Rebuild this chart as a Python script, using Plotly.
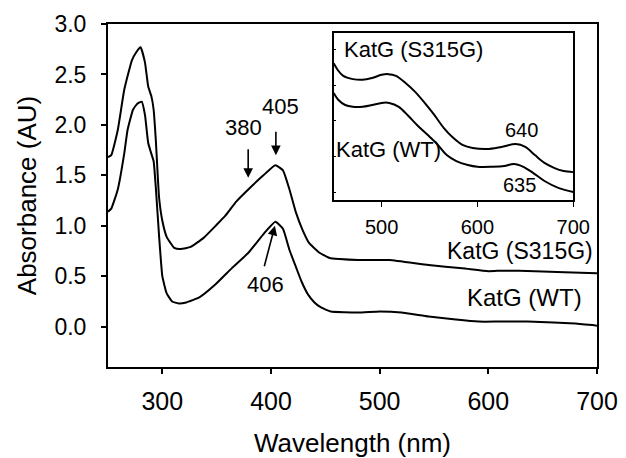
import plotly.graph_objects as go

# ---- main spectra ----
wl_s315g = [250, 253, 259, 265, 272, 276, 280, 284, 287, 290, 292, 294, 297, 300, 304, 311, 317,
            326, 338, 350, 358, 368, 381, 393, 404, 411, 417, 423, 429, 435, 445, 454, 463, 480,
            509, 545, 576, 600, 613, 643, 670, 700]
abs_s315g = [1.68, 1.70, 1.95, 2.35, 2.64, 2.72, 2.77, 2.62, 2.38, 2.28, 2.15, 1.85, 1.28, 1.05, 0.89, 0.78, 0.77,
             0.79, 0.88, 1.01, 1.10, 1.24, 1.38, 1.50, 1.60, 1.55, 1.36, 1.13, 0.96, 0.83, 0.73, 0.68, 0.67, 0.66,
             0.66, 0.61, 0.58, 0.55, 0.555, 0.55, 0.54, 0.53]

wl_wt = [250, 253, 259, 265, 268, 273, 277, 281, 284, 287, 290, 292, 294, 297, 300, 304, 309, 315,
         322, 334, 349, 364, 379, 394, 404, 411, 417, 423, 428, 434, 440, 446, 455, 480, 500, 520, 545,
         570, 591, 610, 636, 660, 680, 700]
abs_wt = [1.14, 1.17, 1.36, 1.72, 1.95, 2.15, 2.21, 2.23, 2.10, 1.82, 1.71, 1.64, 1.38, 0.90, 0.50, 0.33, 0.25, 0.23,
          0.24, 0.29, 0.42, 0.58, 0.73, 0.93, 1.04, 0.97, 0.76, 0.59, 0.45, 0.32, 0.24, 0.19, 0.15, 0.14, 0.15, 0.14,
          0.10, 0.07, 0.05, 0.05, 0.05, 0.04, 0.03, 0.01]

# ---- inset spectra ----
wl_in_s = [450, 455, 460, 470, 480, 490, 500, 507, 515, 525, 535, 545, 555, 565, 575, 585, 595, 610, 625,
           640, 650, 660, 670, 680, 690, 700]
abs_in_s = [0.563, 0.541, 0.527, 0.518, 0.516, 0.521, 0.530, 0.532, 0.527, 0.507, 0.482, 0.451, 0.417, 0.380,
            0.352, 0.332, 0.324, 0.321, 0.327, 0.335, 0.327, 0.304, 0.282, 0.268, 0.259, 0.256]
wl_in_w = [450, 455, 462, 470, 480, 490, 500, 508, 518, 528, 538, 548, 558, 568, 578, 590, 600, 615, 628,
           638, 648, 658, 670, 685, 700]
abs_in_w = [0.479, 0.459, 0.445, 0.440, 0.440, 0.445, 0.451, 0.451, 0.440, 0.414, 0.386, 0.361, 0.335, 0.304,
            0.287, 0.276, 0.271, 0.271, 0.273, 0.279, 0.271, 0.254, 0.231, 0.211, 0.200]

x_ticks = [300, 400, 500, 600, 700]
y_ticks = [0.0, 0.5, 1.0, 1.5, 2.0, 2.5, 3.0]
inset_x_ticks = [500, 600, 700]
inset_y_ticks = [0.2, 0.3, 0.4, 0.5, 0.6]

FONT = "Arial, Liberation Sans, sans-serif"
line = dict(color="black", width=2)

fig = go.Figure()
fig.add_trace(go.Scatter(x=wl_s315g, y=abs_s315g, mode="lines", line=dict(**line, shape="spline", smoothing=0.4)))
fig.add_trace(go.Scatter(x=wl_wt, y=abs_wt, mode="lines", line=dict(**line, shape="spline", smoothing=0.4)))
fig.add_trace(go.Scatter(x=wl_in_s, y=abs_in_s, mode="lines", xaxis="x2", yaxis="y2",
                         line=dict(**line, shape="spline", smoothing=0.9)))
fig.add_trace(go.Scatter(x=wl_in_w, y=abs_in_w, mode="lines", xaxis="x2", yaxis="y2",
                         line=dict(**line, shape="spline", smoothing=0.9)))

ann = []
txt = lambda s, x, y, size, xa="center", xref="x", yref="y": dict(
    text=s, x=x, y=y, xref=xref, yref=yref, showarrow=False, xanchor=xa, yanchor="middle",
    font=dict(family=FONT, size=size, color="black"))
ann.append(txt("KatG (S315G)", 698, 0.745, 23, "right"))
ann.append(txt("KatG (WT)", 688, 0.29, 24, "right"))
ann.append(txt("380", 374.5, 1.97, 22))
ann.append(txt("405", 409, 2.18, 22))
ann.append(txt("406", 394.5, 0.42, 22))
for (x, y, ax, ay) in [(379, 1.475, 0, -30), (404.5, 1.70, 0, -25), (403.6, 1.0, -11, 42)]:
    ann.append(dict(x=x, y=y, xref="x", yref="y", ax=ax, ay=ay, text="", showarrow=True,
                    arrowhead=2, arrowsize=1.2, arrowwidth=1.6, arrowcolor="black"))
ann.append(txt("KatG (S315G)", 459, 0.600, 22, "left", "x2", "y2"))
ann.append(txt("KatG (WT)", 450, 0.3185, 22, "left", "x2", "y2"))
ann.append(txt("640", 646, 0.375, 20, "center", "x2", "y2"))
ann.append(txt("635", 644, 0.22, 20, "center", "x2", "y2"))

fig.update_layout(
    width=626, height=458, showlegend=False,
    margin=dict(l=108, r=24, t=24, b=91),
    paper_bgcolor="white", plot_bgcolor="white",
    font=dict(family=FONT, color="black"),
    xaxis=dict(range=[250, 700], tickvals=x_ticks, showgrid=False, zeroline=False, automargin=False,
               showline=True, linecolor="black", linewidth=2, mirror=True,
               ticks="outside", ticklen=5, tickwidth=1.5, tickcolor="black",
               tickfont=dict(size=25, family=FONT), ticklabelstandoff=6,
               title=dict(text="Wavelength (nm)", font=dict(size=26, family=FONT), standoff=25)),
    yaxis=dict(range=[-0.4, 3.0], tickvals=y_ticks, tickformat=".1f", showgrid=False, zeroline=False,
               automargin=False,
               showline=True, linecolor="black", linewidth=2, mirror=True,
               ticks="outside", ticklen=5, tickwidth=1.5, tickcolor="black",
               tickfont=dict(size=23, family=FONT), ticklabelstandoff=10,
               title=dict(text="Absorbance (AU)", font=dict(size=26, family=FONT), standoff=10)),
    xaxis2=dict(domain=[0.4615, 0.9514], anchor="y2", range=[450, 700], tickvals=inset_x_ticks,
                showgrid=False, zeroline=False, showline=True, linecolor="black", linewidth=1.5, mirror=True,
                ticks="outside", ticklen=5, tickwidth=1.2, tickcolor="black",
                tickfont=dict(size=20, family=FONT), ticklabelstandoff=3),
    yaxis2=dict(domain=[0.4869, 0.9738], anchor="x2", range=[0.1775, 0.6479], tickvals=inset_y_ticks,
                showticklabels=False, showgrid=False, zeroline=False, showline=True, linecolor="black",
                linewidth=1.5, mirror=True, ticks="inside", ticklen=3, tickwidth=1, tickcolor="black"),
    annotations=ann,
)

fig.write_html("out.html")
